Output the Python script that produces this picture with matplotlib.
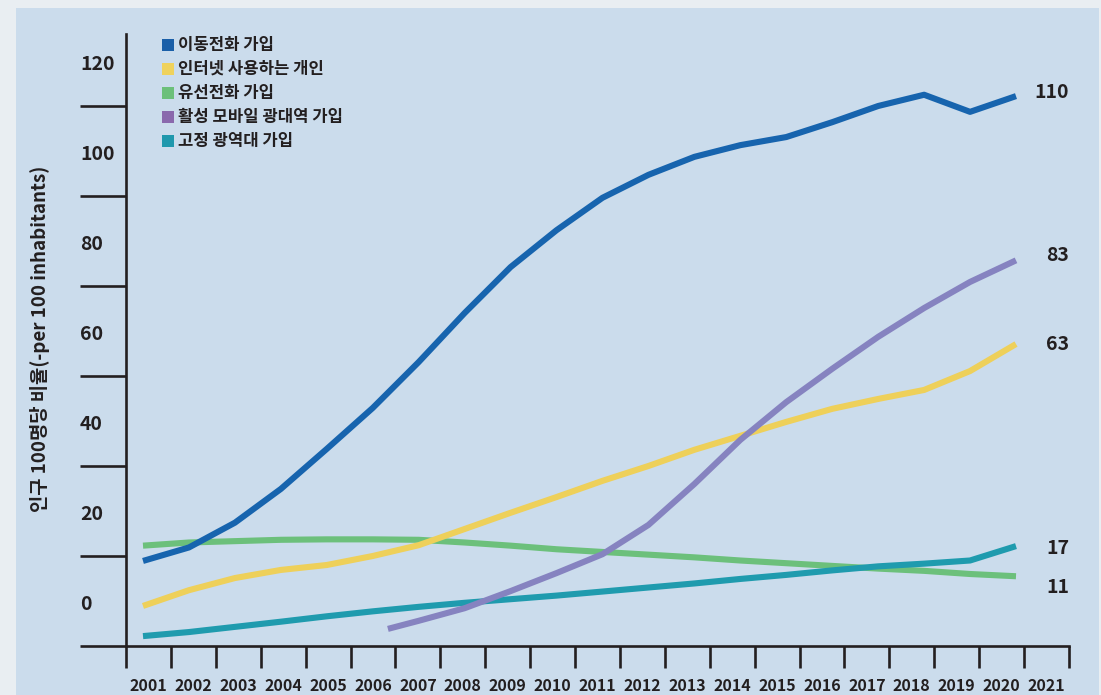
import numpy as np
import matplotlib
matplotlib.use("Agg")
import matplotlib.pyplot as plt
from matplotlib.patches import Rectangle
from matplotlib.transforms import Affine2D, blended_transform_factory

plt.rcParams['font.family'] = ['Noto Sans CJK KR', 'DejaVu Sans']

# ---------------- data ----------------
years = [2001, 2002, 2003, 2004, 2005, 2006, 2007, 2008, 2009, 2010,
         2011, 2012, 2013, 2014, 2015, 2016, 2017, 2018, 2019, 2020]
mobile = [8.9, 11.9, 17.4, 24.9, 33.8, 42.9, 53.1, 64.0, 74.2, 82.4,
          89.6, 94.7, 98.7, 101.3, 103.1, 106.4, 110.0, 112.5, 108.7, 112.2]
internet = [-1.1, 2.4, 5.1, 6.9, 8.0, 10.0, 12.4, 16.0, 19.6, 23.1,
            26.7, 30.0, 33.6, 36.7, 39.8, 42.7, 44.9, 46.9, 51.1, 57.1]
fixed_tel = [12.3, 13.0, 13.3, 13.6, 13.7, 13.7, 13.6, 13.0, 12.3, 11.5,
             10.9, 10.3, 9.7, 9.0, 8.4, 7.8, 7.2, 6.7, 6.0, 5.5]
mob_bb_years = [2006.33, 2007, 2008, 2009, 2010, 2011, 2012, 2013, 2014,
                2015, 2016, 2017, 2018, 2019, 2020]
mob_bb = [-6.2, -4.4, -1.6, 2.2, 6.2, 10.4, 16.9, 26.0, 35.8,
          44.2, 51.6, 58.7, 65.1, 70.9, 75.7]
fixed_bb = [-7.8, -6.9, -5.75, -4.6, -3.4, -2.3, -1.3, -0.4, 0.4, 1.2,
            2.1, 3.0, 3.9, 4.9, 5.8, 6.8, 7.7, 8.3, 9.0, 12.2]

series_names = ["이동전화 가입", "인터넷 사용하는 개인", "유선전화 가입",
                "활성 모바일 광대역 가입", "고정 광역대 가입"]
end_labels = ["110", "63", "11", "83", "17"]
ytick_labels = ["0", "20", "40", "60", "80", "100", "120"]
xtick_labels = [str(y) for y in range(2001, 2022)]
ylabel = "인구 100명당 비율(-per 100 inhabitants)"

# ---------------- style ----------------
line_colors = ["#1764ae", "#eed05a", "#6cc07b", "#8683c0", "#1f9bae"]
legend_colors = ["#1a5fa8", "#efd25c", "#6cc07a", "#8a69ad", "#1f98ad"]
end_offsets = [0.7, -0.2, -2.4, 1.0, -0.6]
ink = "#231f20"
panel = "#cbdcec"
outer = "#e9eef2"
WT = 900

W, H = 1101, 695
fig = plt.figure(figsize=(W / 100, H / 100), dpi=100, facecolor=outer)
px = Affine2D().scale(1 / W, -1 / H).translate(0, 1) + fig.transFigure

fig.patches.append(Rectangle((16, 8), 1083, 700, transform=px,
                             facecolor=panel, edgecolor="none", zorder=-10))

ax = fig.add_axes([126 / W, (H - 646) / H, 943 / W, 612 / H])
ax.set_facecolor("none")
ax.set_zorder(1)

px_per_year = (1016 - 143) / 19
x0 = 2001 - (143 - 126) / px_per_year
x1 = 2001 + (1069 - 143) / px_per_year
ax.set_xlim(x0, x1)
ax.set_ylim(-10, 126)

xs_all = [years, years, years, mob_bb_years, years]
ys_all = [mobile, internet, fixed_tel, mob_bb, fixed_bb]
order = [2, 1, 4, 3, 0]
for i in order:
    ax.plot(xs_all[i], ys_all[i], color=line_colors[i], lw=4.4,
            solid_capstyle="butt", solid_joinstyle="round", zorder=3)

# spines
for s in ["top", "right"]:
    ax.spines[s].set_visible(False)
for s in ["left", "bottom"]:
    ax.spines[s].set_color(ink)
    ax.spines[s].set_linewidth(1.9)

# x ticks: marks at boundaries, labels centred between
xt = np.linspace(x0, x1, 22)
ax.set_xticks(xt)
ax.set_xticklabels([])
ax.tick_params(axis="x", which="major", length=16, width=1.9, color=ink,
               direction="out")
ax.set_xticks((xt[:-1] + xt[1:]) / 2, minor=True)
ax.set_xticklabels(xtick_labels, minor=True, fontsize=11.5,
                   fontweight=WT, color=ink)
ax.tick_params(axis="x", which="minor", length=0, pad=23)

# y ticks: marks between labels
ax.set_yticks(np.arange(-10, 111, 20))
ax.set_yticklabels([])
ax.tick_params(axis="y", which="major", length=33, width=1.9, color=ink,
               direction="out")
ytr = blended_transform_factory(ax.transAxes, ax.transData)
for i, lab in enumerate(ytick_labels):
    ax.text(-46 / 943, i * 20 - 0.7, lab, transform=ytr, ha="left",
            va="center", fontsize=14, fontweight=WT, color=ink)

# y label
fig.text(40 / W, 1 - 339 / H, ylabel, rotation=90, ha="center",
         va="center", fontsize=13.5, fontweight=WT, color=ink)

# end labels
for i in range(5):
    ax.text(1.0, ys_all[i][-1] + end_offsets[i], end_labels[i], transform=ytr,
            ha="right", va="center", fontsize=14, fontweight=WT,
            color=ink, clip_on=False)

# legend
for i, name in enumerate(series_names):
    yc = 45 + 24 * i
    fig.patches.append(Rectangle((162, yc - 6), 12, 12, transform=px,
                                 facecolor=legend_colors[i],
                                 edgecolor="none", zorder=5))
    fig.text(178, yc, name, transform=px, ha="left", va="center",
             fontsize=12, fontweight=WT, color=ink)

fig.savefig("out.png", dpi=100, facecolor=outer)
